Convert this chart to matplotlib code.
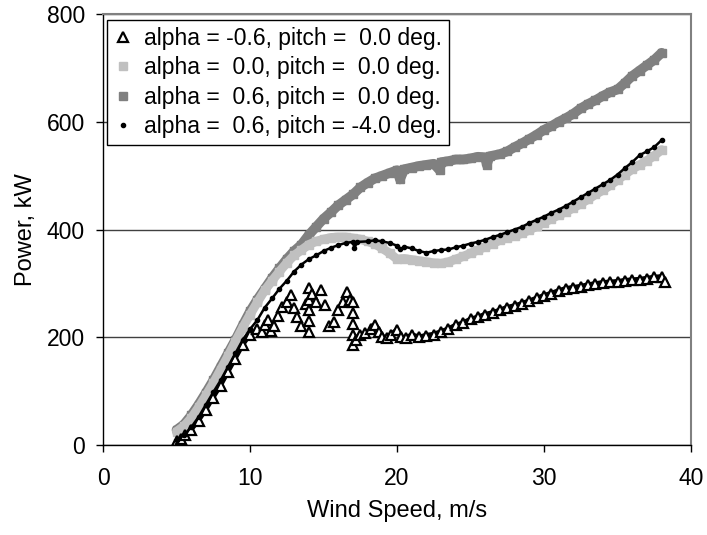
import matplotlib
matplotlib.use("Agg")
import matplotlib.pyplot as plt

plt.rcParams['font.family'] = ['Liberation Sans', 'DejaVu Sans']

# alpha = -0.6, pitch = 0.0 deg.
ws_a = [5.0, 5.3, 5.6, 6.0, 6.5, 7.0, 7.5, 8.0, 8.5, 9.0, 9.5, 10.0, 10.5,
        10.8, 11.0, 11.2, 11.4, 11.6, 11.9, 12.2, 12.5, 12.8, 13.0, 13.2, 13.5,
        13.8, 14.0, 14.0, 14.0, 14.0, 14.0, 14.2, 14.5, 14.8, 15.1, 15.4, 15.7,
        16.0, 16.3, 16.6, 16.8, 17.0, 17.0, 17.0, 17.0, 17.0, 17.2, 17.5, 17.8,
        18.2, 18.5, 18.8, 19.0, 19.3, 19.6, 20.0, 20.3, 20.6, 21.0, 21.5, 22.0,
        22.5, 23.0, 23.5, 24.0, 24.5, 25.0, 25.5, 26.0, 26.5, 27.0, 27.5, 28.0,
        28.5, 29.0, 29.5, 30.0, 30.5, 31.0, 31.5, 32.0, 32.5, 33.0, 33.5, 34.0,
        34.5, 35.0, 35.5, 36.0, 36.5, 37.0, 37.5, 38.0, 38.2]
pw_a = [8, 12, 18, 28, 45, 65, 88, 110, 135, 160, 185, 205, 215,
        210, 222, 232, 212, 220, 240, 257, 265, 278, 255, 238, 220,
        262, 291, 270, 250, 230, 210, 280, 265, 288, 260, 220, 229,
        250, 265, 284, 270, 266, 245, 225, 205, 185, 195, 204, 208,
        215, 223, 210, 201, 198, 205, 213, 200, 198, 204, 200, 203,
        205, 210, 215, 222, 226, 233, 237, 242, 245, 250, 255, 258,
        262, 267, 272, 277, 281, 286, 290, 292, 294, 297, 299, 301,
        302, 303, 305, 306, 307, 309, 311, 312, 303]

# alpha = 0.0, pitch = 0.0 deg.
ws_b = [5.0, 5.5, 6.0, 6.5, 7.0, 7.5, 8.0, 8.5, 9.0, 9.5, 10.0, 10.5, 11.0,
        11.5, 12.0, 12.5, 13.0, 13.5, 14.0, 14.5, 15.0, 15.5, 16.0, 16.5, 17.0,
        17.5, 18.0, 18.5, 19.0, 19.5, 20.0, 20.5, 21.0, 21.5, 22.0, 22.5, 23.0,
        23.5, 24.0, 24.5, 25.0, 25.5, 26.0, 26.5, 27.0, 27.5, 28.0, 28.5, 29.0,
        29.5, 30.0, 30.5, 31.0, 31.5, 32.0, 32.5, 33.0, 33.5, 34.0, 34.5, 35.0,
        35.5, 36.0, 36.5, 37.0, 37.5, 38.0]
pw_b = [25, 35, 50, 70, 92, 115, 140, 165, 192, 218, 242, 265, 287,
        305, 322, 338, 352, 362, 372, 378, 382, 385, 386, 386, 384,
        382, 378, 373, 365, 356, 345, 346, 344, 342, 340, 338, 337,
        340, 345, 350, 356, 362, 368, 374, 380, 385, 388, 393, 399,
        406, 413, 420, 427, 433, 440, 448, 456, 465, 473, 482, 492,
        502, 512, 520, 528, 537, 548]

# alpha = 0.6, pitch = 0.0 deg.
ws_c = [5.0, 5.5, 6.0, 6.5, 7.0, 7.5, 8.0, 8.5, 9.0, 9.5, 10.0, 10.5, 11.0,
        11.5, 12.0, 12.5, 13.0, 13.5, 14.0, 14.5, 15.0, 15.5, 16.0, 16.5, 17.0,
        17.5, 18.0, 18.5, 19.0, 19.5, 20.0, 20.2, 20.5, 21.0, 21.5, 22.0, 22.5,
        22.9, 23.0, 23.5, 24.0, 24.5, 25.0, 25.5, 26.0, 26.1, 26.3, 27.0, 27.5,
        28.0, 28.5, 29.0, 29.5, 30.0, 30.5, 31.0, 31.5, 32.0, 32.5, 33.0, 33.5,
        34.0, 34.5, 35.0, 35.5, 36.0, 36.5, 37.0, 37.5, 38.0]
pw_c = [28, 38, 55, 75, 97, 120, 145, 170, 195, 222, 248, 270, 290,
        310, 328, 345, 360, 372, 390, 405, 420, 432, 445, 455, 465,
        478, 487, 495, 500, 505, 510, 493, 512, 515, 518, 520, 522,
        510, 525, 527, 530, 530, 532, 535, 534, 520, 536, 540, 545,
        553, 560, 568, 576, 585, 592, 600, 607, 615, 625, 633, 640,
        648, 655, 660, 672, 685, 695, 705, 715, 728]

# alpha = 0.6, pitch = -4.0 deg.
ws_d = [5.0, 5.5, 6.0, 6.5, 7.0, 7.5, 8.0, 8.5, 9.0, 9.5, 10.0, 10.5, 11.0,
        11.5, 12.0, 12.5, 13.0, 13.5, 14.0, 14.5, 15.0, 15.5, 16.0, 16.5, 17.0,
        17.1, 17.3, 18.0, 18.5, 19.0, 19.5, 20.0, 20.2, 20.5, 21.0, 21.5, 22.0,
        22.5, 23.0, 23.5, 24.0, 24.5, 25.0, 25.5, 26.0, 26.5, 27.0, 27.5, 28.0,
        28.5, 29.0, 29.5, 30.0, 30.5, 31.0, 31.5, 32.0, 32.5, 33.0, 33.5, 34.0,
        34.5, 35.0, 35.5, 36.0, 36.5, 37.0, 37.5, 38.0]
pw_d = [10, 18, 33, 52, 75, 98, 120, 145, 170, 195, 215, 232, 255,
        272, 290, 305, 322, 335, 345, 352, 360, 366, 371, 375, 377,
        366, 377, 378, 380, 378, 375, 370, 363, 368, 365, 360, 357,
        360, 362, 363, 367, 370, 374, 377, 381, 386, 390, 395, 400,
        405, 412, 418, 424, 431, 437, 444, 452, 460, 468, 476, 484,
        492, 502, 514, 525, 538, 545, 553, 566]

labels = ["alpha = -0.6, pitch =  0.0 deg.",
          "alpha =  0.0, pitch =  0.0 deg.",
          "alpha =  0.6, pitch =  0.0 deg.",
          "alpha =  0.6, pitch = -4.0 deg."]

x_ticks = [0, 10, 20, 30, 40]
y_ticks = [0, 200, 400, 600, 800]

fig = plt.figure(figsize=(7.07, 5.35), dpi=100)
ax = fig.add_axes([0.1457, 0.1682, 0.8317, 0.8056])

light = "#c0c0c0"
dark = "#808080"

# thick bands behind the marker traces
ax.plot(ws_c, pw_c, color=dark, lw=7, solid_capstyle="round", zorder=2)
ax.plot(ws_b, pw_b, color=light, lw=6.5, solid_capstyle="round", zorder=3)
ax.plot(ws_a[50:], pw_a[50:], color="black", lw=4, zorder=4)
ax.plot(ws_a[:13], pw_a[:13], color="black", lw=3, zorder=4)

h_a, = ax.plot(ws_a, pw_a, ls="none", marker="^", ms=6.5, mfc="white",
               mec="black", mew=1.6, zorder=5, label=labels[0])
h_b, = ax.plot(ws_b, pw_b, ls="none", marker="s", ms=6, mfc=light,
               mec=light, zorder=3, label=labels[1])
h_c, = ax.plot(ws_c, pw_c, ls="none", marker="s", ms=6, mfc=dark,
               mec=dark, zorder=2, label=labels[2])
ax.plot(ws_d, pw_d, color="black", lw=1.8, zorder=6)
h_d, = ax.plot(ws_d, pw_d, ls="none", marker="o", ms=3, mfc="black",
               mec="black", zorder=6, label=labels[3])

ax.set_xlim(0, 40)
ax.set_ylim(0, 800)
ax.set_xticks(x_ticks)
ax.set_yticks(y_ticks)
ax.tick_params(axis="both", labelsize=16.5, direction="out", length=5,
               width=1, colors="black")
ax.tick_params(axis="x", pad=11)
ax.tick_params(axis="y", pad=8)

ax.grid(axis="y", color="#404040", lw=1)
ax.set_axisbelow(True)

for side in ("left", "bottom"):
    ax.spines[side].set_color("black")
    ax.spines[side].set_linewidth(1)
for side in ("top", "right"):
    ax.spines[side].set_color("#808080")
    ax.spines[side].set_linewidth(1.5)

ax.set_xlabel("Wind Speed, m/s", fontsize=17, labelpad=7)
ax.set_ylabel("Power, kW", fontsize=17, labelpad=7)

leg = ax.legend(handles=[h_a, h_b, h_c, h_d], loc="upper left",
                bbox_to_anchor=(0.007, 0.986), fontsize=16.5, frameon=True,
                fancybox=False, edgecolor="black", framealpha=1,
                handlelength=0.8, handletextpad=0.5, borderpad=0.3,
                labelspacing=0.28, borderaxespad=0)
leg.get_frame().set_linewidth(1)

fig.savefig("out.png", dpi=100)
